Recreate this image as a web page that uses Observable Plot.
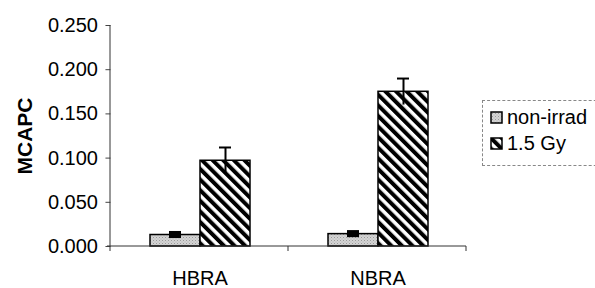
<!DOCTYPE html>
<html><head><meta charset="utf-8">
<script src="https://cdn.jsdelivr.net/npm/d3@7"></script>
<script src="https://cdn.jsdelivr.net/npm/@observablehq/plot@0.6"></script>
<style>
body{margin:0;background:#fff;font-family:Arial,"Liberation Sans",sans-serif}
#chart{position:relative;width:595px;height:288px;overflow:hidden}
#chart [aria-label="y-axis label"]{font-weight:bold;font-size:21px}
#legend{position:absolute;left:482px;top:100px;width:130px;height:66px;border:1px dashed #888;box-sizing:border-box;background:#fff}
</style></head><body><div id="chart"></div>
<script>
const categories = ["HBRA", "NBRA"];
const series = ["non-irrad", "1.5 Gy"];
const nonIrrad = [0.013, 0.014];
const nonIrradErr = [0.004, 0.004];
const gy15 = [0.097, 0.175];
const gy15Err = [0.015, 0.015];
const yTicks = [0, 0.05, 0.1, 0.15, 0.2, 0.25];
const yLabel = "MCAPC";

const data = categories.flatMap((c, i) => [
  {cat: c, series: series[0], value: nonIrrad[i], err: nonIrradErr[i]},
  {cat: c, series: series[1], value: gy15[i], err: gy15Err[i]}
]);
const grey = data.filter(d => d.series === series[0]);
const hatch = data.filter(d => d.series === series[1]);

const fmt = d3.format(".3f");
const font = "Arial, 'Liberation Sans', sans-serif";

const W = 595, H = 288, ML = 110, MR = 129;
const pInner = 0.433, pOuter = 0.2165;
const step = (W - ML - MR) / (categories.length - pInner + 2 * pOuter);
const outer = pOuter * step; // gap between plot edge and first facet

const plot = Plot.plot({
  width: W, height: H,
  marginLeft: ML, marginRight: MR, marginTop: 25, marginBottom: 42,
  style: {fontFamily: font, fontSize: "20px", color: "#000", background: "#fff", overflow: "visible"},
  fx: {domain: categories, paddingInner: pInner, paddingOuter: pOuter, label: null},
  x: {domain: series, padding: 0, axis: null},
  y: {domain: [0, 0.25], label: null},
  color: {domain: series, range: ["url(#greyfill)", "url(#hatchfill)"]},
  marks: [
    Plot.axisY({ticks: yTicks, tickFormat: fmt, tickSize: 5, tickPadding: 8, fontSize: 20, dx: -outer,
      label: yLabel, labelAnchor: "center", labelArrow: "none", labelOffset: 94 + outer, stroke: "#444"}),
    Plot.axisFx({anchor: "bottom", tickSize: 0, tickPadding: 24, fontSize: 20, label: null}),
    Plot.barY(data, {fx: "cat", x: "series", y: "value", fill: "series", stroke: "#000", strokeWidth: 1.5}),
    Plot.ruleX(hatch, {fx: "cat", x: "series", y1: d => d.value - d.err, y2: d => d.value + d.err, stroke: "#000", strokeWidth: 2}),
    Plot.tickY(hatch, {fx: "cat", x: "series", y: d => d.value + d.err, stroke: "#000", strokeWidth: 2, insetLeft: 19, insetRight: 19}),
    Plot.rectY(grey, {fx: "cat", x: "series", y1: d => d.value - d.err, y2: d => d.value + d.err, fill: "#000", insetLeft: 19, insetRight: 19})
  ]
});

// patterns
const svg = d3.select(plot);
const defs = svg.insert("defs", ":first-child");
const ph = defs.append("pattern").attr("id", "hatchfill").attr("patternUnits", "userSpaceOnUse")
  .attr("width", 7.5).attr("height", 7.5).attr("patternTransform", "rotate(-45)");
ph.append("rect").attr("width", 7.5).attr("height", 7.5).attr("fill", "#fff");
ph.append("rect").attr("width", 4).attr("height", 7.5).attr("fill", "#000");
const pg = defs.append("pattern").attr("id", "greyfill").attr("patternUnits", "userSpaceOnUse")
  .attr("width", 3).attr("height", 3);
pg.append("rect").attr("width", 3).attr("height", 3).attr("fill", "#d4d4d4");
pg.append("rect").attr("width", 1).attr("height", 1).attr("fill", "#9a9a9a");
pg.append("rect").attr("x", 1.5).attr("y", 1.5).attr("width", 1).attr("height", 1).attr("fill", "#b0b0b0");

// axis lines from the scales
const y = plot.scale("y");
const y0 = y.apply(0), yTop = y.apply(yTicks[yTicks.length - 1]);
const x0 = ML, x1 = W - MR;
const axes = svg.append("g").attr("stroke", "#333").attr("stroke-width", 1);
axes.append("line").attr("x1", x0).attr("x2", x0).attr("y1", yTop).attr("y2", y0);
axes.append("line").attr("x1", x0 - 3).attr("x2", x1).attr("y1", y0).attr("y2", y0);
d3.range(categories.length + 1).forEach(k => {
  const xb = x0 + k * step;
  axes.append("line").attr("x1", xb).attr("x2", xb).attr("y1", y0).attr("y2", y0 + 5);
});

const chart = document.getElementById("chart");
chart.appendChild(plot);

// legend
const leg = d3.select(chart).append("div").attr("id", "legend");
const ls = leg.append("svg").attr("width", 130).attr("height", 66)
  .style("font-family", font).style("font-size", "20px");
series.forEach((s, i) => {
  const yy = 11 + i * 26;
  ls.append("rect").attr("x", 8).attr("y", yy).attr("width", 11).attr("height", 11)
    .attr("fill", plot.scale("color").apply(s)).attr("stroke", "#000").attr("stroke-width", 1.5);
  ls.append("text").attr("x", 24).attr("y", yy + 12).text(s);
});
</script></body></html>
